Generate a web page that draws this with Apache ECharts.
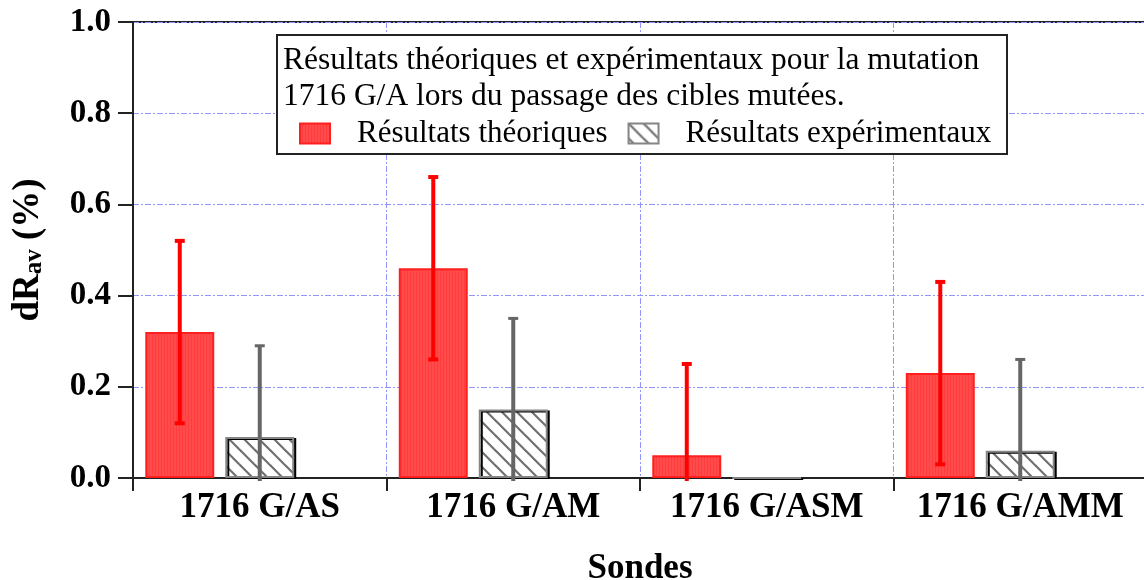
<!DOCTYPE html>
<html>
<head>
<meta charset="utf-8">
<script src="https://cdn.jsdelivr.net/npm/echarts@6/dist/echarts.min.js"></script>
<style>
  html, body { margin: 0; padding: 0; background: #fff; }
  #chart { width: 1144px; height: 580px; }
</style>
</head>
<body>
<div id="chart"></div>
<script>
// Probes (categories) and measured values
const categories = ['1716 G/AS', '1716 G/AM', '1716 G/ASM', '1716 G/AMM'];
const theoValues = [0.32, 0.46, 0.05, 0.23];
const theoErrors = [0.20, 0.20, 0.20, 0.20];
const expValues = [0.09, 0.15, 0.00, 0.06];
const expErrors = [0.20, 0.20, null, 0.20];
const seriesNames = ['Résultats théoriques', 'Résultats expérimentaux'];
const titleLines = [
  'Résultats théoriques et expérimentaux pour la mutation',
  '1716 G/A lors du passage des cibles mutées.'
];
const yMin = 0, yMax = 1, yStep = 0.2;

const SERIF = '"Liberation Serif", "Times New Roman", serif';
const BAR_W = 0.272;   // bar width as a fraction of the category band
const GAP = 0.16;      // gap between bars as a fraction of bar width

// Fill patterns
function stripePattern() {
  const c = document.createElement('canvas');
  c.width = 3; c.height = 3;
  const g = c.getContext('2d');
  g.fillStyle = '#ff4b4b'; g.fillRect(0, 0, 3, 3);
  g.fillStyle = '#ff3d3d'; g.fillRect(2, 0, 1, 3);
  return { image: c, repeat: 'repeat' };
}
function hatchPattern() {
  const s = 15;
  const c = document.createElement('canvas');
  c.width = s; c.height = s;
  const g = c.getContext('2d');
  g.fillStyle = '#ffffff'; g.fillRect(0, 0, s, s);
  g.strokeStyle = '#707070'; g.lineWidth = 2.2;
  for (const x0 of [-s, 0, s]) {
    g.beginPath(); g.moveTo(x0 - 1, -1); g.lineTo(x0 + s + 1, s + 1); g.stroke();
  }
  return { image: c, repeat: 'repeat' };
}

function errorBars(slot, color, lineW, capW, capH) {
  return function (params, api) {
    const i = api.value(0), v = api.value(1), e = api.value(2);
    const band = api.size([1, 0])[0];
    const dx = slot * band * BAR_W * (1 + GAP);
    const x = api.coord([i, v])[0] + dx;
    const yHi = api.coord([i, v + e])[1];
    const lo = v - e;
    const clipped = lo < 0;
    const yLo = api.coord([i, Math.max(lo, 0)])[1] + (clipped ? 3 : 0);
    const style = { fill: color };
    const kids = [
      { type: 'rect', shape: { x: x - lineW / 2, y: yHi, width: lineW, height: yLo - yHi }, style },
      { type: 'rect', shape: { x: x - capW / 2, y: yHi - capH / 2, width: capW, height: capH }, style }
    ];
    if (!clipped) {
      kids.push({ type: 'rect', shape: { x: x - capW / 2, y: yLo - capH / 2, width: capW, height: capH }, style });
    }
    return { type: 'group', children: kids };
  };
}

const theoErrData = categories.map((c, i) => [i, theoValues[i], theoErrors[i]]).filter(d => d[2] != null);
const expErrData = categories.map((c, i) => [i, expValues[i], expErrors[i]]).filter(d => d[2] != null);

const gridLine = { show: true, lineStyle: { color: '#9494ff', width: 1, type: [6, 2, 2, 2] } };

const chart = echarts.init(document.getElementById('chart'), null, { renderer: 'canvas' });
chart.setOption({
  animation: false,
  backgroundColor: '#fff',
  textStyle: { fontFamily: SERIF },
  grid: {
    left: 133, right: -3, top: 22, bottom: 102,
    containLabel: false, outerBoundsMode: 'none',
    show: true, borderColor: '#222', borderWidth: 2, backgroundColor: 'transparent'
  },
  title: {
    text: titleLines.join('\n'),
    left: 278, top: 38,
    textStyle: { fontFamily: SERIF, fontSize: 31.5, fontWeight: 'normal', color: '#000', lineHeight: 35.5 },
    z: 20
  },
  graphic: [{
    type: 'rect', left: 276, top: 34, z: 15,
    shape: { width: 730, height: 119 },
    style: { fill: '#fff', stroke: '#222', lineWidth: 2 }
  }],
  legend: {
    data: seriesNames,
    left: 299, top: 118, padding: 0,
    itemWidth: 30, itemHeight: 20, itemGap: 20,
    icon: 'rect',
    textStyle: { fontFamily: SERIF, fontSize: 31, color: '#000', padding: [0, 0, 0, 22] },
    z: 20
  },
  xAxis: {
    type: 'category',
    data: categories,
    name: 'Sondes',
    nameLocation: 'middle',
    nameGap: 73,
    nameTextStyle: { fontFamily: SERIF, fontSize: 35, fontWeight: 'bold', color: '#000' },
    axisLine: { lineStyle: { color: '#222', width: 2 } },
    axisTick: { show: true, interval: 0, length: 13, lineStyle: { color: '#222', width: 2 } },
    axisLabel: { interval: 0, fontFamily: SERIF, fontSize: 35, fontWeight: 'bold', color: '#000', margin: 12 },
    splitLine: Object.assign({ interval: 0 }, gridLine)
  },
  yAxis: {
    type: 'value',
    min: yMin, max: yMax, interval: yStep,
    name: '{a|dR}{b|av}{a| (%)}',
    nameLocation: 'middle',
    nameRotate: 90,
    nameGap: 86,
    nameTextStyle: {
      rich: {
        a: { fontFamily: SERIF, fontSize: 37, fontWeight: 'bold', color: '#000', lineHeight: 44, verticalAlign: 'bottom' },
        b: { fontFamily: SERIF, fontSize: 25, fontWeight: 'bold', color: '#000', lineHeight: 44, verticalAlign: 'bottom', padding: [9, 0, 0, 0] }
      }
    },
    axisLine: { show: true, lineStyle: { color: '#222', width: 2 } },
    axisTick: { show: true, length: 15, lineStyle: { color: '#222', width: 2 } },
    axisLabel: {
      fontFamily: SERIF, fontSize: 33, fontWeight: 'bold', color: '#000', margin: 22,
      formatter: v => v.toFixed(1)
    },
    splitLine: gridLine
  },
  series: [
    {
      name: seriesNames[0], type: 'bar', data: theoValues,
      barWidth: (BAR_W * 100) + '%', barGap: (GAP * 100) + '%',
      itemStyle: { color: stripePattern(), borderColor: '#ff1f1f', borderWidth: 2 },
      z: 3
    },
    {
      name: seriesNames[1], type: 'bar', data: expValues,
      barWidth: (BAR_W * 100) + '%', barGap: (GAP * 100) + '%',
      itemStyle: {
        color: hatchPattern(), borderColor: '#858585', borderWidth: 2,
        shadowColor: '#000', shadowOffsetX: 2, shadowOffsetY: 1, shadowBlur: 0
      },
      z: 3
    },
    {
      // empty slot so the group sits left of the band centre
      name: 'slot', type: 'bar', data: [], silent: true,
      barWidth: (BAR_W * 100) + '%', barGap: (GAP * 100) + '%'
    },
    {
      type: 'custom', name: 'theoErr', data: theoErrData,
      encode: { x: 0, y: 1 }, z: 5, silent: true,
      renderItem: errorBars(-1, '#ff0000', 4, 10, 4)
    },
    {
      type: 'custom', name: 'expErr', data: expErrData,
      encode: { x: 0, y: 1 }, z: 5, silent: true,
      renderItem: errorBars(0, '#666666', 4, 10, 3)
    }
  ]
});
</script>
</body>
</html>
